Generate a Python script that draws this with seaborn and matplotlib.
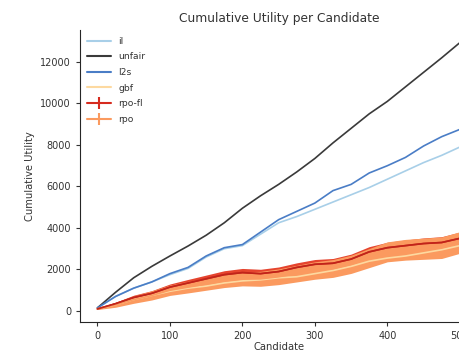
import pandas as pd
import matplotlib
matplotlib.use("Agg")
import matplotlib.pyplot as plt
import seaborn as sns
from matplotlib.lines import Line2D

candidates = [0, 25, 50, 75, 100, 125, 150, 175, 200, 225, 250,
              275, 300, 325, 350, 375, 400, 425, 450, 475, 500]

il = [150, 700, 1100, 1400, 1750, 2050, 2600, 3000, 3150, 3700, 4250,
      4550, 4900, 5250, 5600, 5950, 6350, 6750, 7150, 7500, 7900]
unfair = [150, 900, 1600, 2150, 2650, 3130, 3650, 4250, 4950, 5550, 6100,
          6700, 7350, 8100, 8800, 9500, 10100, 10800, 11500, 12200, 12930]
l2s = [150, 700, 1100, 1400, 1800, 2100, 2650, 3050, 3200, 3800, 4400,
       4800, 5200, 5800, 6100, 6650, 7000, 7400, 7950, 8400, 8750]
gbf = [100, 300, 550, 750, 950, 1100, 1200, 1350, 1450, 1500, 1600,
       1650, 1800, 1950, 2150, 2400, 2550, 2650, 2800, 2950, 3150]
rpo_fl = [100, 350, 650, 850, 1150, 1350, 1550, 1750, 1850, 1800, 1900,
          2100, 2250, 2300, 2500, 2850, 3050, 3150, 3250, 3300, 3500]
rpo_fl_err = [20, 70, 110, 130, 150, 170, 180, 190, 200, 210, 220,
              220, 230, 230, 240, 250, 260, 270, 270, 280, 300]
rpo = [100, 300, 550, 750, 1000, 1150, 1300, 1450, 1550, 1550, 1650,
       1800, 1950, 2050, 2250, 2550, 2850, 2950, 3000, 3050, 3300]
rpo_err = [30, 120, 180, 220, 250, 280, 300, 320, 340, 360, 380,
           400, 420, 430, 440, 460, 480, 500, 510, 520, 520]

colors = {"il": "#a8cfe8", "unfair": "#3a3a3a", "l2s": "#4a7dc6",
          "gbf": "#fdd9a0", "rpo-fl": "#d62b1e", "rpo": "#fb9a5f"}

series = {"il": il, "unfair": unfair, "l2s": l2s, "gbf": gbf,
          "rpo-fl": rpo_fl, "rpo": rpo}
rows = []
for name, vals in series.items():
    for c, v in zip(candidates, vals):
        rows.append({"Candidate": c, "Cumulative Utility": v, "method": name})
df = pd.DataFrame(rows)

sns.set_style("ticks")
plt.rcParams["text.color"] = "#333333"
plt.rcParams["axes.labelcolor"] = "#333333"
plt.rcParams["xtick.color"] = "#333333"
plt.rcParams["ytick.color"] = "#333333"

fig = plt.figure(figsize=(4.6, 3.55), dpi=100)
ax = fig.add_axes([0.174, 0.093, 0.865, 0.8225])

# error bands first
ax.fill_between(candidates, [m - e for m, e in zip(rpo_fl, rpo_fl_err)],
                [m + e for m, e in zip(rpo_fl, rpo_fl_err)],
                color="#e5442e", lw=0, zorder=2)
ax.fill_between(candidates, [m - e for m, e in zip(rpo, rpo_err)],
                [m + e for m, e in zip(rpo, rpo_err)],
                color=colors["rpo"], lw=0, zorder=2.05)

sns.lineplot(data=df, x="Candidate", y="Cumulative Utility", hue="method",
             palette=colors, linewidth=1.2, legend=False, ax=ax, zorder=3)
# rpo-fl line a bit darker on top of its band
sns.lineplot(x=candidates, y=rpo_fl, color="#c0241a", linewidth=1.2,
             ax=ax, zorder=3.1)

ax.set_xlim(-24, 525)
ax.set_ylim(-530, 13540)
ax.set_xticks([0, 100, 200, 300, 400, 500])
ax.set_yticks([0, 2000, 4000, 6000, 8000, 10000, 12000])
ax.tick_params(labelsize=7, length=3, width=0.8)
ax.set_xlabel("Candidate", fontsize=7.2, labelpad=1)
ax.set_ylabel("Cumulative Utility", fontsize=7.2)
ax.set_title("Cumulative Utility per Candidate", fontsize=8.8, pad=6)
sns.despine(ax=ax)

handles = []
for name in ["il", "unfair", "l2s", "gbf"]:
    handles.append(Line2D([], [], color=colors[name], lw=1.5, label=name))
for name in ["rpo-fl", "rpo"]:
    handles.append(Line2D([], [], color=colors[name], lw=1.5, marker="|",
                          markersize=8, markeredgewidth=1.5, label=name))
ax.legend(handles=handles, loc="upper left", frameon=False, fontsize=6.6,
          handlelength=2.6, labelspacing=0.72, borderaxespad=0.35,
          numpoints=1)

fig.savefig("out.png", dpi=100)
